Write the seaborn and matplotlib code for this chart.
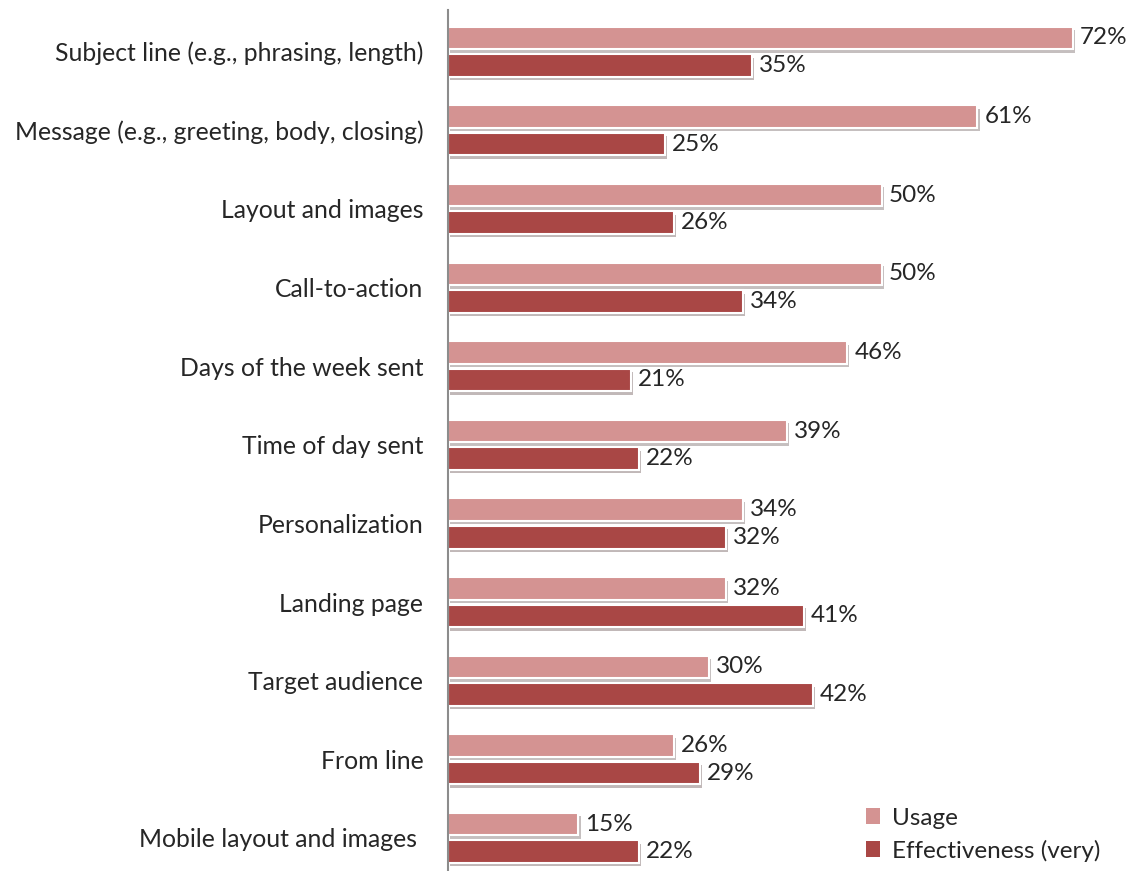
import pandas as pd
import seaborn as sns
import matplotlib.pyplot as plt
import matplotlib.patheffects as pe

# data
categories = ['Subject line (e.g., phrasing, length)',
              'Message (e.g., greeting, body, closing)',
              'Layout and images', 'Call-to-action', 'Days of the week sent',
              'Time of day sent', 'Personalization', 'Landing page',
              'Target audience', 'From line', 'Mobile layout and images ']
usage = [72, 61, 50, 50, 46, 39, 34, 32, 30, 26, 15]
effectiveness = [35, 25, 26, 34, 21, 22, 32, 41, 42, 29, 22]
series = ['Usage', 'Effectiveness (very)']
colors = ['#D49392', '#A94745']

df = pd.DataFrame({'Category': categories * 2,
                   'Value': usage + effectiveness,
                   'Series': [series[0]] * len(categories) + [series[1]] * len(categories)})

sns.set_style('white')
plt.rcParams['font.family'] = ['Lato', 'DejaVu Sans']

fig = plt.figure(figsize=(11.38, 8.71), dpi=100)
ax = fig.add_axes([0.394, 0.0, 0.596, 0.9885])

sns.barplot(data=df, y='Category', x='Value', hue='Series', palette=colors,
            saturation=1, orient='h', width=0.7, gap=0.18,
            edgecolor='white', linewidth=1.5, ax=ax)

shadow = [pe.SimplePatchShadow(offset=(1.5, -2.5), alpha=0.3), pe.Normal()]
for p in ax.patches:
    p.set_path_effects(shadow)

for cont in ax.containers:
    ax.bar_label(cont, labels=[f'{int(v)}%' for v in cont.datavalues],
                 padding=5, fontsize=17.5)

ax.set_xlim(0, 78.2)
ax.set_ylim(10.42, -0.53)
ax.set_xlabel('')
ax.set_ylabel('')
ax.set_xticks([])
ax.tick_params(axis='y', length=0, pad=18, labelsize=17.8)
for s in ['top', 'right', 'bottom']:
    ax.spines[s].set_visible(False)
ax.spines['left'].set_color('#8c8c8c')
ax.spines['left'].set_linewidth(1.5)

leg = ax.legend(loc='lower right', bbox_to_anchor=(0.98, -0.006),
                bbox_transform=fig.transFigure, frameon=False,
                fontsize=17.5, handlelength=0.6, handleheight=0.6,
                handletextpad=0.5, labelspacing=0.45, borderaxespad=0.2)
for h in leg.legend_handles:
    h.set_path_effects([])
    h.set_edgecolor('none')

fig.savefig('out.png', dpi=100)
